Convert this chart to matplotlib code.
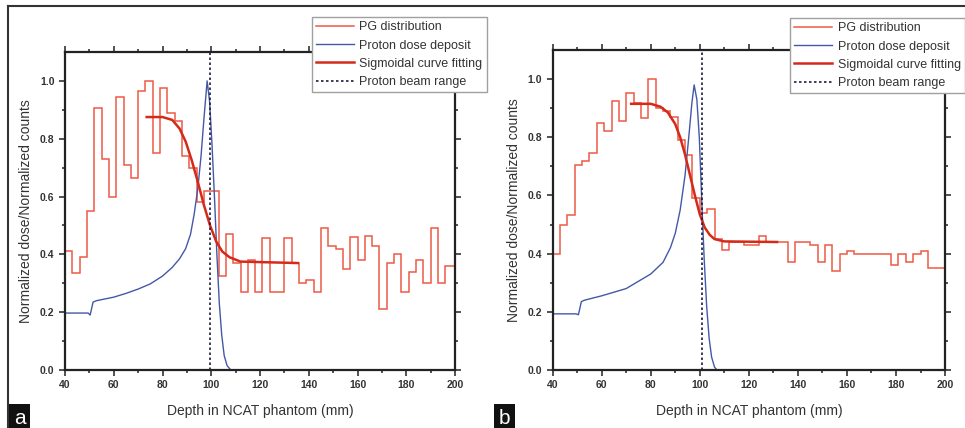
import numpy as np
import matplotlib
matplotlib.use("Agg")
import matplotlib.pyplot as plt
import matplotlib as mpl
from matplotlib.lines import Line2D

mpl.rcParams['font.family'] = ['Liberation Sans', 'DejaVu Sans']
mpl.rcParams['xtick.direction'] = 'out'
mpl.rcParams['ytick.direction'] = 'out'

# 3 mm depth bins (the last one is clipped at 200 mm)
bin_edges = np.arange(40, 203, 3)

# panel a - PG distribution per bin
pg_a = [0.41, 0.335, 0.39, 0.55, 0.907, 0.73, 0.60, 0.945, 0.71, 0.665,
        0.965, 1.0, 0.75, 0.975, 0.89, 0.86, 0.74, 0.70, 0.58, 0.62,
        0.62, 0.324, 0.47, 0.37, 0.27, 0.38, 0.27, 0.455, 0.27, 0.27,
        0.455, 0.37, 0.30, 0.31, 0.27, 0.49, 0.43, 0.42, 0.35, 0.46,
        0.38, 0.465, 0.43, 0.21, 0.37, 0.40, 0.27, 0.34, 0.38, 0.30,
        0.49, 0.30, 0.36, 0.36]

# panel b - PG distribution per bin
pg_b = [0.40, 0.50, 0.533, 0.705, 0.72, 0.745, 0.85, 0.82, 0.923, 0.855,
        0.952, 0.917, 0.866, 1.0, 0.90, 0.89, 0.87, 0.79, 0.74, 0.59,
        0.54, 0.555, 0.45, 0.413, 0.44, 0.44, 0.43, 0.43, 0.46, 0.44,
        0.44, 0.44, 0.37, 0.44, 0.44, 0.43, 0.37, 0.43, 0.34, 0.40,
        0.41, 0.40, 0.40, 0.40, 0.40, 0.40, 0.36, 0.40, 0.37, 0.40,
        0.41, 0.35, 0.35, 0.35]

# proton dose deposit (depth, normalized dose)
dose_a_x = [40, 49.5, 50.3, 51.5, 53, 60, 65, 70, 75, 80, 84, 87, 89.5, 91.5,
            93, 94.5, 95.8, 97, 98.3, 99.3, 100.3, 101.3, 102.3, 103.3, 104.3,
            105.3, 106.5, 108]
dose_a_y = [0.197, 0.197, 0.19, 0.235, 0.24, 0.252, 0.265, 0.28, 0.298, 0.325,
            0.355, 0.385, 0.42, 0.47, 0.54, 0.63, 0.74, 0.87, 1.0, 0.93, 0.78,
            0.6, 0.4, 0.23, 0.12, 0.05, 0.015, 0.0]

dose_b_x = [40, 49.5, 50.5, 51.7, 53, 60, 70, 80, 85, 88, 90, 92, 94, 95.5,
            96.8, 97.7, 98.8, 99.8, 100.8, 101.8, 102.8, 103.8, 104.8, 106, 107]
dose_b_y = [0.193, 0.193, 0.19, 0.235, 0.24, 0.255, 0.28, 0.33, 0.37, 0.42,
            0.47, 0.55, 0.67, 0.8, 0.92, 0.98, 0.93, 0.80, 0.58, 0.38, 0.22,
            0.11, 0.045, 0.01, 0.0]

# sigmoidal curve fitting
fit_a_x = [73.5, 80, 84, 87, 89.5, 92, 94.5, 97, 99.5, 102, 104.5, 107.5, 112, 135.5]
fit_a_y = [0.875, 0.875, 0.865, 0.835, 0.79, 0.725, 0.65, 0.57, 0.5, 0.445,
           0.41, 0.39, 0.375, 0.37]

fit_b_x = [72, 80, 84, 87, 90, 92, 94, 96, 98, 100, 102, 104, 106, 110, 131.5]
fit_b_y = [0.915, 0.915, 0.905, 0.885, 0.845, 0.80, 0.74, 0.67, 0.6, 0.535,
           0.49, 0.465, 0.45, 0.442, 0.44]

# proton beam range
range_a = 99.3
range_b = 101.0

labels = ["PG distribution", "Proton dose deposit", "Sigmoidal curve fitting",
          "Proton beam range"]

pg_color = '#ee5a45'
dose_color = '#4458a8'
fit_color = '#d42a1a'
range_color = '#1c1c3c'
text_color = '#333333'

fig = plt.figure(figsize=(9.65, 4.28), dpi=100)
ax_a = fig.add_axes([0.0674, 0.1355, 0.4041, 0.7430])
ax_b = fig.add_axes([0.5727, 0.1355, 0.4066, 0.7477])


def panel(ax, pg, dx, dy, fx, fy, rng, leg_xy):
    ax.stairs(pg, bin_edges, color=pg_color, linewidth=1.1, baseline=None)
    l2, = ax.plot(dx, dy, color=dose_color, linewidth=1.0)
    l3, = ax.plot(fx, fy, color=fit_color, linewidth=1.8)
    l4 = ax.axvline(rng, color=range_color, linewidth=1.2, linestyle=(0, (1.5, 1.5)))

    ax.set_xlim(40, 200)
    ax.set_ylim(0, 1.1)
    ax.set_xticks(np.arange(40, 201, 20))
    ax.set_xticks(np.arange(50, 200, 20), minor=True)
    ax.set_yticks([0.0, 0.2, 0.4, 0.6, 0.8, 1.0])
    ax.set_yticklabels(['0.0', '0.2', '0.4', '0.6', '0.8', '1.0'])
    ax.set_yticks([0.1, 0.3, 0.5, 0.7, 0.9], minor=True)
    ax.tick_params(which='both', top=True, right=True, labelsize=7.5,
                   colors=text_color, width=1.2)
    ax.tick_params(which='major', length=4)
    ax.tick_params(which='minor', length=2.5)
    for lab in ax.get_xticklabels() + ax.get_yticklabels():
        lab.set_fontweight('bold')
    for s in ax.spines.values():
        s.set_linewidth(1.6)
        s.set_color('#222222')

    ax.set_xlabel("Depth in NCAT phantom (mm)", fontsize=10, color=text_color, labelpad=10)
    ax.set_ylabel("Normalized dose/Normalized counts", fontsize=10, color=text_color, labelpad=5)

    h1 = Line2D([], [], color=pg_color, linewidth=1.1)
    leg = ax.legend([h1, l2, l3, l4], labels, loc='upper left',
                    bbox_to_anchor=leg_xy, bbox_transform=fig.transFigure,
                    borderaxespad=0, fontsize=9, handlelength=3.0,
                    labelspacing=0.5, handletextpad=0.45, borderpad=0.35,
                    fancybox=False, framealpha=1, edgecolor='#a0a0a0')
    leg.get_frame().set_linewidth(1.0)
    for t in leg.get_texts():
        t.set_color(text_color)
    leg.set_zorder(10)


panel(ax_a, pg_a, dose_a_x, dose_a_y, fit_a_x, fit_a_y, range_a, (0.3233, 0.9603))
panel(ax_b, pg_b, dose_b_x, dose_b_y, fit_b_x, fit_b_y, range_b, (0.8187, 0.958))

# outer frame lines
fig.add_artist(Line2D([8 / 965, 1], [1 - 6 / 428, 1 - 6 / 428], color='#333333',
                      linewidth=1.5, transform=fig.transFigure))
fig.add_artist(Line2D([8 / 965, 8 / 965], [0, 1 - 6 / 428], color='#333333',
                      linewidth=1.5, transform=fig.transFigure))

# panel letters
for x, s in [(19.5 / 965, 'a'), (504.5 / 965, 'b')]:
    fig.text(x, 0.0, s, fontsize=15, color='white', ha='center', va='bottom',
             bbox=dict(boxstyle='square,pad=0.22', facecolor='#111111', edgecolor='none'))

fig.savefig('out.png', dpi=100)
